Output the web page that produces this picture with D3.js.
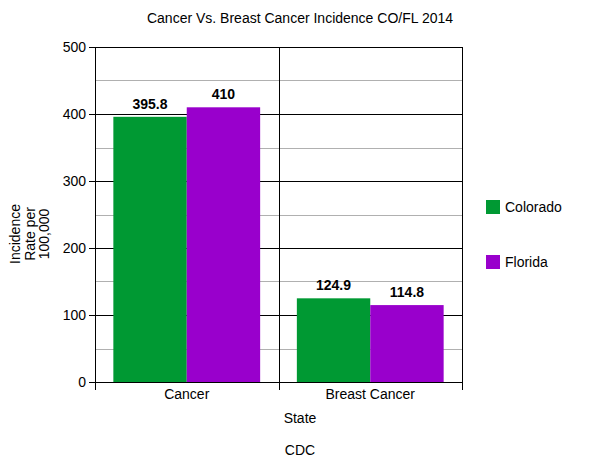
<!DOCTYPE html>
<html>
<head>
<meta charset="utf-8">
<script src="https://cdn.jsdelivr.net/npm/d3@7"></script>
<style>
  html, body { margin: 0; padding: 0; background: #fff; overflow: hidden; }
  svg { display: block; }
  text { font-family: "Liberation Sans", Arial, sans-serif; fill: #000; }
</style>
</head>
<body>
<div class="chart-area"></div>
<script>
const categories = ["Cancer", "Breast Cancer"];
const seriesNames = ["Colorado", "Florida"];
const colorado = [395.8, 124.9];
const florida = [410, 114.8];
const yTicks = [0, 100, 200, 300, 400, 500];
const colors = ["#009933", "#9900cc"];

const width = 600, height = 463;
const margin = { top: 47, right: 138, bottom: 81, left: 95 };
const innerWidth = width - margin.left - margin.right,
  innerHeight = height - margin.top - margin.bottom;

const svg = d3.select(".chart-area")
  .append("svg")
  .attr("width", width)
  .attr("height", height);

const g = svg.append("g")
  .attr("transform", "translate(" + margin.left + "," + margin.top + ")");

const x0 = d3.scaleBand().domain(categories).range([0, innerWidth]).paddingInner(0).paddingOuter(0);
const x1 = d3.scaleBand().domain(seriesNames).range([0, x0.bandwidth()]).paddingInner(0).paddingOuter(0.25);
const y = d3.scaleLinear().domain([0, 500]).range([innerHeight, 0]);

// minor gridlines every 50
g.append("g")
  .selectAll("line")
  .data(d3.range(50, 500, 100))
  .enter().append("line")
  .attr("x1", 0).attr("x2", innerWidth)
  .attr("y1", d => Math.round(y(d)) + 0.5).attr("y2", d => Math.round(y(d)) + 0.5)
  .attr("stroke", "#b0b0b0");

// major gridlines
g.append("g")
  .selectAll("line")
  .data(yTicks)
  .enter().append("line")
  .attr("x1", -6).attr("x2", innerWidth)
  .attr("y1", d => Math.round(y(d)) + 0.5).attr("y2", d => Math.round(y(d)) + 0.5)
  .attr("stroke", "#000");

// category separators
const seps = [0].concat(categories.map(c => x0(c) + x0.bandwidth()));
g.append("g")
  .selectAll("line")
  .data(seps)
  .enter().append("line")
  .attr("x1", d => Math.round(d) + 0.5).attr("x2", d => Math.round(d) + 0.5)
  .attr("y1", 0).attr("y2", innerHeight + 8)
  .attr("stroke", "#000");

// y tick labels
g.append("g")
  .selectAll("text")
  .data(yTicks)
  .enter().append("text")
  .attr("x", -9)
  .attr("y", d => y(d))
  .attr("dy", "0.35em")
  .attr("text-anchor", "end")
  .attr("font-size", 14)
  .text(d => d);

// bars
const rows = categories.map((c, i) => ({ cat: c, values: [colorado[i], florida[i]] }));
const group = g.append("g")
  .selectAll("g")
  .data(rows)
  .enter().append("g")
  .attr("transform", d => "translate(" + x0(d.cat) + ",0)");

group.selectAll("rect")
  .data(d => d.values.map((v, j) => ({ name: seriesNames[j], value: v, j: j })))
  .enter().append("rect")
  .attr("x", d => x1(d.name))
  .attr("width", x1.bandwidth())
  .attr("y", d => y(d.value))
  .attr("height", d => innerHeight - y(d.value))
  .attr("fill", d => colors[d.j]);

group.selectAll("text")
  .data(d => d.values.map((v, j) => ({ name: seriesNames[j], value: v })))
  .enter().append("text")
  .attr("x", d => x1(d.name) + x1.bandwidth() / 2)
  .attr("y", d => y(d.value) - 8)
  .attr("text-anchor", "middle")
  .attr("font-size", 14)
  .attr("font-weight", "bold")
  .text(d => d.value);

// category labels
g.append("g")
  .selectAll("text")
  .data(categories)
  .enter().append("text")
  .attr("x", d => x0(d) + x0.bandwidth() / 2)
  .attr("y", innerHeight + 17)
  .attr("text-anchor", "middle")
  .attr("font-size", 14)
  .text(d => d);

// title and axis titles
svg.append("text")
  .attr("x", 300).attr("y", 23)
  .attr("text-anchor", "middle")
  .attr("font-size", 14)
  .text("Cancer Vs. Breast Cancer Incidence CO/FL 2014");

svg.append("text")
  .attr("x", 300).attr("y", 423)
  .attr("text-anchor", "middle")
  .attr("font-size", 14)
  .text("State");

svg.append("text")
  .attr("x", 300).attr("y", 455)
  .attr("text-anchor", "middle")
  .attr("font-size", 14)
  .text("CDC");

const yLabel = ["Incidence", "Rate per", "100,000"];
svg.append("g")
  .selectAll("text")
  .data(yLabel)
  .enter().append("text")
  .attr("transform", (d, i) => "translate(" + (20 + i * 14.5) + ",234) rotate(-90)")
  .attr("text-anchor", "middle")
  .attr("font-size", 14)
  .text(d => d);

// legend
const legend = svg.append("g")
  .selectAll("g")
  .data(seriesNames)
  .enter().append("g")
  .attr("transform", (d, i) => "translate(486," + (200 + i * 55) + ")");

legend.append("rect")
  .attr("width", 14).attr("height", 14)
  .attr("fill", (d, i) => colors[i]);

legend.append("text")
  .attr("x", 19).attr("y", 7)
  .attr("dy", "0.35em")
  .attr("font-size", 14)
  .text(d => d);
</script>
</body>
</html>
